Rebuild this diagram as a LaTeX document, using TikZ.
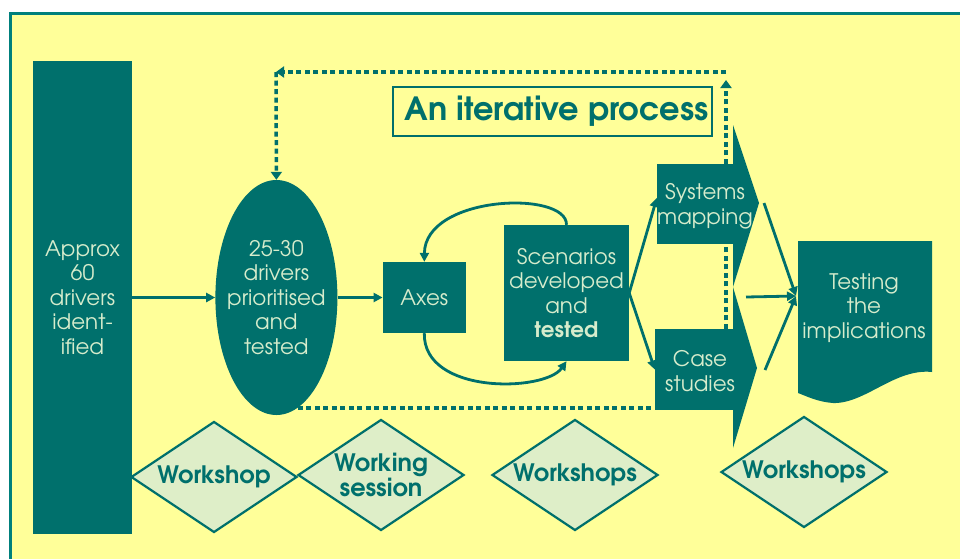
\documentclass[tikz,border=0pt]{standalone}
\usepackage{fontspec}
\setmainfont{TeX Gyre Adventor}
\usetikzlibrary{shapes,arrows,arrows.meta,positioning}
\definecolor{drk}{RGB}{0,112,108}
\definecolor{frameteal}{RGB}{0,128,124}
\definecolor{pale}{RGB}{214,236,204}
\definecolor{bgyellow}{RGB}{255,255,153}
\definecolor{lightgreen}{RGB}{222,238,200}
\tikzstyle{bodytext} = [text=pale, align=center, font=\fontsize{21.4}{24.5}\selectfont]
\tikzstyle{darkbox} = [fill=drk, rectangle, inner sep=0pt, bodytext]
\tikzstyle{meeting} = [diamond, aspect=1.5, fill=lightgreen, draw=drk, line width=2.2pt, inner sep=0pt, minimum width=166pt, minimum height=111pt, text=drk, align=center, font=\bfseries\fontsize{24}{23}\selectfont]
\tikzstyle{flowarr} = [draw=drk, line width=2.8pt, -{Triangle[length=9pt,width=9pt]}]
\tikzstyle{loopline} = [draw=drk, line width=3.5pt, dash pattern=on 5pt off 3.5pt]
\tikzstyle{looparr} = [loopline, -{Triangle[length=8pt,width=11pt]}]

\begin{document}
\begin{tikzpicture}[x=1pt,y=-1pt]
\fill[white] (0,0) rectangle (960,558);
\clip (0,0) rectangle (960,558);
\filldraw[fill=bgyellow, draw=frameteal, line width=3pt] (10.5,13.5) rectangle (985,585);

% main flow
\node[darkbox, minimum width=99pt, minimum height=473pt] (app) at (82.5,297.5) {Approx\\60\\drivers\\ident-\\ified};
\node[ellipse, fill=drk, inner sep=-14pt, minimum width=122pt, minimum height=235pt, bodytext, right=83pt of app] (drv) {25-30\\drivers\\prioritised\\and\\tested};
\node[darkbox, minimum width=83pt, minimum height=71pt, right=45pt of drv] (axes) {Axes};
\node[darkbox, minimum width=125pt, minimum height=136pt] (scen) at (566.5,293) {Scenarios\\developed\\and\\\textbf{tested}};

% arrow shapes
\node[darkbox, minimum width=76pt, minimum height=80pt] (sys) at (695,204) {};
\fill[drk] (733,125) -- (759,203) -- (733,287) -- cycle;
\node[bodytext] (systxt) at (705,206) {Systems\\mapping};
\node[darkbox, minimum width=78pt, minimum height=81pt] (case) at (694,369.5) {};
\fill[drk] (733,287) -- (757,368) -- (733,448) -- cycle;
\node[bodytext] (casetxt) at (700,371) {Case\\studies};

% testing
\fill[drk] (798,241) -- (932,241) -- (932,372) .. controls (895,368) and (865,404) .. (833,403)
  .. controls (818,402) and (806,396) .. (798,393) -- cycle;
\node[bodytext] (test) at (864,308) {Testing\\the\\implications};

\node[draw=drk, line width=2.5pt, minimum width=319pt, minimum height=49pt, inner sep=0pt, text=drk,
  font=\bfseries\fontsize{32}{34}\selectfont] (iter) at (552.5,111.5) {\hspace{8pt}An iterative process};

\coordinate (systip) at (764,203);
\coordinate (midstart) at (746,297);
\coordinate (casetip) at (765,370);
\coordinate (testin) at (796,296);
\coordinate (tr) at (726,72);
\coordinate (tl) at (276,72);
\coordinate (upend) at (726,80);

% connectors
\draw[flowarr] (app.east) -- (drv.west);
\draw[flowarr] (drv.east) -- (axes.west);
\draw[flowarr] (scen.north) .. controls (567,190) and (425,195) .. (axes.north);
\draw[flowarr] (axes.south) .. controls (423,395) and (545,392) .. (scen.south);
\draw[flowarr] (scen.east) -- ([yshift=6pt]sys.west);
\draw[flowarr] (scen.east) -- (case.west);
\draw[flowarr] (systip) -- (testin);
\draw[flowarr] (midstart) -- (testin);
\draw[flowarr] (casetip) -- (testin);

% iterative loop
\draw[loopline] (drv.-79) -- (drv.-79 -| case.west);
\draw[loopline] (case.north -| tr) -- (sys.south -| tr);
\draw[looparr] (sys.north -| tr) -- (upend);
\draw[looparr] (tr) -- (tl);
\draw[looparr] (tl) -- (drv.north);

% meetings
\node[meeting] (ws1) at (214,477) {Workshop};
\node[meeting] (ws2) at (381,475) {Working\\session};
\node[meeting] (ws3) at (575,475) {Workshops};
\node[meeting] (ws4) at (804,472) {Workshops};
\end{tikzpicture}
\end{document}
